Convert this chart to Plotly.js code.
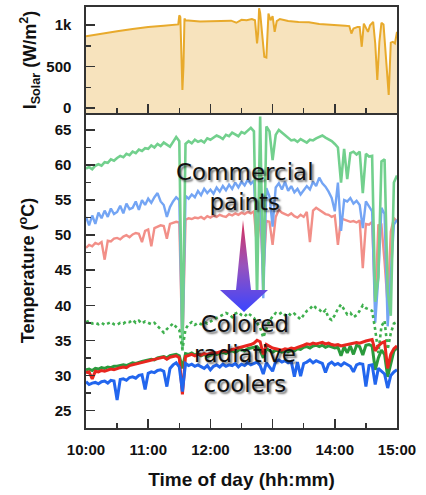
<!DOCTYPE html>
<html>
<head>
<meta charset="utf-8">
<script src="https://cdn.plot.ly/plotly-3.0.1.min.js"></script>
<style>html,body{margin:0;padding:0;background:#fff;}#chart{width:426px;height:495px;}</style>
</head>
<body>
<div id="chart"></div>
<script>
// ---- data ----
// minutes after 10:00 for temperature samples
const tempMinutes = [0,3,6,9,12,15,18,21,24,27,30,33,36,39,42,45,48,51,54,57,60,63,66,69,72,75,78,81,84,87,90,93,96,99,102,105,108,111,114,117,120,123,126,129,132,135,138,141,144,147,150,153,156,159,162,165,168,171,174,177,180,183,186,189,192,195,198,201,204,207,210,213,216,219,222,225,228,231,234,237,240,243,246,249,252,255,258,261,264,267,270,273,276,279,282,285,288,291,294,297,300];

const paintGreen = [59.5,59.7,59.4,59.9,60.1,59.9,60.4,60.3,60.8,60.6,61.0,61.3,61.1,61.6,61.4,61.9,61.7,62.2,62.0,62.4,62.3,62.8,62.5,63.0,62.7,63.2,62.9,62.6,63.3,64.0,63.4,33.5,63.0,63.4,63.1,63.6,63.3,63.5,63.2,63.8,63.6,63.9,64.2,64.0,63.7,64.3,64.1,64.6,64.4,64.1,64.7,64.5,64.9,65.3,64.8,41.0,66.9,42.0,65.5,64.8,60.7,64.3,65.0,64.6,64.2,63.8,63.5,63.6,63.3,63.7,63.4,63.2,63.6,63.5,63.8,64.0,64.2,63.9,63.7,63.4,63.0,62.5,57.5,62.3,58.0,61.7,61.9,61.5,61.9,56.0,61.6,61.2,61.3,40.5,44.0,60.5,60.8,42.0,38.5,57.5,58.5];

const paintBlue = [52.6,51.4,52.8,51.6,53.2,52.4,53.5,52.6,53.8,53.0,53.3,54.2,53.1,54.5,53.7,53.9,54.8,53.6,55.0,54.3,55.2,54.6,55.4,56.0,54.8,54.3,52.6,54.0,54.8,55.4,55.0,34.0,55.6,55.2,55.8,55.4,56.3,55.7,56.6,56.0,56.5,55.9,56.8,56.2,57.0,56.4,57.2,56.6,57.5,56.8,57.6,57.1,57.9,57.3,57.8,48.8,57.5,41.0,56.7,55.5,51.2,56.8,57.4,56.5,57.6,56.3,57.0,56.1,56.6,55.8,56.4,57.0,56.5,57.6,57.0,58.2,57.4,56.9,56.2,55.3,53.4,57.5,50.6,55.0,54.8,55.3,54.5,54.9,54.3,51.0,54.8,54.0,53.4,37.5,44.0,53.9,53.0,37.0,45.0,51.5,52.2];

const paintPink = [48.2,48.6,48.4,48.9,48.7,49.0,46.5,49.2,49.1,49.5,49.6,49.4,49.8,50.0,49.7,50.1,50.3,50.2,49.0,50.6,50.8,48.4,51.0,51.2,51.4,51.3,49.5,51.6,51.8,51.9,51.8,33.8,52.2,52.4,52.3,52.5,52.4,52.6,52.3,52.7,52.5,52.8,52.6,52.9,52.7,52.6,53.0,52.8,53.1,52.9,53.2,53.0,53.3,53.1,53.4,48.2,53.2,44.0,52.0,51.9,48.6,52.6,53.6,53.2,53.0,52.8,53.1,52.7,52.5,52.9,52.6,53.3,49.0,53.5,53.9,53.6,53.2,53.0,52.9,52.6,52.8,48.6,52.4,52.2,52.1,51.9,52.0,51.8,52.1,45.3,51.6,51.5,51.9,40.0,51.4,51.5,46.2,40.0,50.5,52.4,52.0];

const coolerDotted = [37.6,37.8,37.4,37.5,37.3,37.5,37.2,37.4,37.6,37.3,37.2,37.5,37.4,37.7,37.6,37.9,37.5,37.8,37.4,37.7,37.5,37.3,37.5,37.0,36.5,36.1,36.6,37.0,37.4,36.9,36.5,33.7,36.6,37.3,37.6,37.2,37.5,37.3,37.6,37.4,37.7,37.9,38.2,38.4,38.6,38.9,38.7,38.3,38.8,39.0,38.6,38.4,38.9,38.5,38.2,37.5,36.8,35.4,36.5,37.8,38.4,38.9,38.7,39.0,38.6,38.9,38.5,38.8,38.4,38.0,38.6,39.2,39.5,40.0,39.6,39.4,38.9,39.3,38.2,37.9,38.6,39.5,40.1,39.4,38.7,38.9,38.3,38.6,39.2,40.0,39.6,39.4,39.2,36.5,33.2,37.0,37.8,33.7,36.0,37.4,37.6];

const coolerGreen = [30.8,30.9,30.7,31.0,30.9,31.1,31.0,31.2,31.1,31.3,31.3,31.4,31.5,31.4,31.6,31.8,31.7,31.9,32.0,32.1,32.2,32.3,32.2,32.5,32.6,32.7,32.5,32.8,32.9,33.0,32.8,31.0,33.1,33.0,33.2,32.9,33.1,32.8,33.0,32.7,32.9,33.1,33.0,33.2,33.3,33.1,33.4,33.5,33.3,33.6,33.7,33.5,33.8,33.9,34.0,34.1,33.6,32.5,33.8,33.5,33.3,33.6,33.4,33.3,33.5,33.4,33.6,33.5,33.8,33.7,34.0,34.1,33.9,34.2,34.3,34.1,34.3,34.0,34.2,34.1,33.9,34.0,32.8,34.1,33.2,34.2,33.0,34.3,34.1,32.9,34.3,34.4,34.2,30.8,32.5,33.6,33.0,29.8,31.8,33.5,33.9];

const coolerRed = [30.4,30.5,29.5,30.6,30.5,30.7,30.6,30.8,30.9,30.8,31.0,31.1,31.2,31.1,31.4,31.5,31.6,31.7,31.9,32.0,32.1,32.2,32.3,32.4,32.5,32.6,32.3,32.6,32.7,32.8,32.5,27.3,32.7,32.9,33.0,32.8,33.0,32.9,33.1,33.0,33.2,33.3,33.2,33.4,33.5,33.4,33.6,33.7,33.8,33.9,34.0,34.1,34.2,34.4,34.6,35.0,34.8,33.0,34.4,34.1,33.9,33.8,33.7,33.6,33.8,33.7,33.9,33.8,34.0,34.1,34.3,34.5,34.4,34.6,34.5,34.6,34.7,34.5,34.6,34.4,34.3,34.4,34.2,34.3,34.4,34.5,34.6,34.7,34.6,34.8,34.9,35.0,35.1,33.5,34.2,34.6,34.8,31.0,33.0,33.8,34.2];

const coolerBlue = [29.1,28.7,28.9,29.0,28.8,29.1,29.2,28.9,29.3,29.2,26.5,29.4,29.5,29.3,29.7,29.8,29.6,30.0,30.1,28.0,30.3,30.5,30.4,30.7,30.8,30.6,28.4,31.0,31.5,31.8,31.2,27.7,31.7,31.4,31.6,31.3,31.5,31.2,31.0,31.4,30.8,31.3,31.5,31.2,31.6,31.3,31.5,31.4,31.7,31.2,31.6,31.4,31.8,31.5,31.7,31.9,31.4,30.2,31.8,31.2,30.6,32.0,32.2,31.9,32.1,31.8,32.0,29.8,31.9,29.9,31.7,31.9,32.2,31.8,32.1,31.9,31.7,30.4,31.6,31.9,31.5,31.7,31.4,31.8,31.6,31.3,30.5,31.5,31.7,31.6,28.4,31.4,31.5,28.7,31.0,30.6,30.2,28.2,30.0,30.5,30.8];

// solar irradiance (W/m2) at minutes after 10:00
const solarMinutes = [0,15,30,45,60,75,85,89,90,91,93,94,95,96,110,125,140,145,150,155,160,163,165,166,167,168,170,172,174,176,178,180,182,184,187,195,205,215,225,235,245,250,254,256,258,262,264,266,268,270,272,274,277,279,281,283,285,287,289,292,294,296,298,300];
const solarValues = [867,900,928,955,980,995,1005,1010,1120,1100,220,500,1080,1060,1045,1050,1055,1030,1065,1060,1075,1060,780,900,1205,1150,860,620,610,1140,1060,1110,920,1050,1075,1050,1040,1035,1015,1010,1005,995,990,900,960,980,980,740,1020,960,920,1000,1040,780,340,800,1030,1010,700,160,790,800,780,920];

const timeTickLabels = ['10:00','11:00','12:00','13:00','14:00','15:00'];
const tempTickVals = [25,30,35,40,45,50,55,60,65];
const solarTickVals = [0,500,1000];
const solarTickText = ['0','500','1k'];

// ---- helpers ----
function toTime(m){
  const h = 10 + Math.floor(m/60), mm = m % 60;
  return '2024-06-01 ' + String(h).padStart(2,'0') + ':' + String(mm).padStart(2,'0') + ':00';
}
const tX = tempMinutes.map(toTime);
const sX = solarMinutes.map(toTime);
const tickVals = timeTickLabels.map(s => '2024-06-01 ' + s + ':00');

const F = 'Liberation Sans, Arial, sans-serif';
function line(y, color, width, dash){
  return {type:'scatter', mode:'lines', x:tX, y:y, xaxis:'x', yaxis:'y',
    line:{color:color, width:width, dash:dash||'solid'}, hoverinfo:'skip', showlegend:false};
}
const traces = [
  line(paintPink, '#f28f88', 2.4),
  line(paintBlue, '#74a5f4', 2.4),
  line(paintGreen, '#72d08d', 2.6),
  line(coolerDotted, '#3fb04e', 2.6, 'dot'),
  line(coolerGreen, '#2a9a3c', 3),
  line(coolerRed, '#e8261f', 3),
  line(coolerBlue, '#2266ee', 3),
  {type:'scatter', mode:'lines', x:sX, y:solarValues, xaxis:'x2', yaxis:'y2',
   fill:'tozeroy', fillcolor:'#f7e3bd', line:{color:'#e8aa2c', width:2},
   hoverinfo:'skip', showlegend:false}
];

const axLine = {showline:true, linecolor:'#333', linewidth:1.6, mirror:true, showgrid:false, zeroline:false,
  ticks:'inside', ticklen:9, tickwidth:1.5, tickcolor:'#333'};
const tickFont = {family:F, size:15, color:'#111', weight:'bold'};

const arrowSvg = '<svg xmlns="http://www.w3.org/2000/svg" width="52" height="96" viewBox="0 0 52 96">' +
  '<defs><linearGradient id="g" x1="0" y1="0" x2="0" y2="1">' +
  '<stop offset="0" stop-color="#d8325a"/><stop offset="0.5" stop-color="#9752bd"/><stop offset="1" stop-color="#3b45ff"/>' +
  '</linearGradient></defs>' +
  '<path d="M25 2 L33 72 L50 72 L26 94 L2 72 L18 72 Z" fill="url(#g)"/></svg>';

const annFont = {family:'DejaVu Sans, sans-serif', size:23, color:'#111', shadow:'2px 2px 2px rgba(0,0,0,0.55)'};

const layout = {
  width:426, height:495,
  margin:{l:86, r:29, t:7, b:67},
  paper_bgcolor:'#fff', plot_bgcolor:'#fff',
  showlegend:false,
  font:{family:F, color:'#111'},
  xaxis: Object.assign({}, axLine, {
    type:'date', anchor:'y', domain:[0,1],
    range:[toTime(0), toTime(300)],
    tickvals:tickVals, ticktext:timeTickLabels,
    tickfont:tickFont, ticklabelstandoff:7,
    minor:{dtick:1800000, ticks:'inside', ticklen:5, tickwidth:1.5, tickcolor:'#333'},
    title:{text:'Time of day (hh:mm)', font:{family:F, size:19, weight:'bold', color:'#111'}, standoff:16}
  }),
  xaxis2: Object.assign({}, axLine, {
    type:'date', anchor:'y2', matches:'x', domain:[0,1],
    range:[toTime(0), toTime(300)],
    tickvals:tickVals, showticklabels:false,
    minor:{dtick:1800000, ticks:'inside', ticklen:5, tickwidth:1.5, tickcolor:'#333'}
  }),
  yaxis: Object.assign({}, axLine, {
    domain:[0, 0.748], range:[22.5, 67.4],
    tickvals:tempTickVals, tickfont:tickFont, ticklabelstandoff:10,
    minor:{dtick:2.5, ticks:'inside', ticklen:5, tickwidth:1.5, tickcolor:'#333'},
    title:{text:'Temperature (<sup>o</sup>C)', font:{family:F, size:18, weight:'bold', color:'#111'}, standoff:15}
  }),
  yaxis2: Object.assign({}, axLine, {
    domain:[0.748, 1], range:[-60, 1220],
    tickvals:solarTickVals, ticktext:solarTickText, tickfont:tickFont, ticklabelstandoff:10,
    minor:{tickvals:[250,750], ticks:'inside', ticklen:5, tickwidth:1.5, tickcolor:'#333'},
    title:{text:'I<sub>Solar</sub> (W/m<sup>2</sup>)', font:{family:F, size:18, weight:'bold', color:'#111'}, standoff:5}
  }),
  shapes:[
    {type:'rect', xref:'x2', yref:'y2', x0:toTime(0), x1:toTime(300), y0:-60, y1:0,
     fillcolor:'#f7e3bd', line:{width:0}, layer:'below'}
  ],
  images:[
    {source:'data:image/svg+xml;charset=utf-8,' + encodeURIComponent(arrowSvg),
     xref:'paper', yref:'paper', x:(218-86)/311, y:(428-218)/421, sizex:52/311, sizey:96/421,
     sizing:'stretch', xanchor:'left', yanchor:'top', layer:'above'}
  ],
  annotations:[
    {xref:'paper', yref:'y', x:(245-86)/311, y:56.9, text:'Commercial<br>paints', showarrow:false, font:annFont},
    {xref:'paper', yref:'y', x:(245-86)/311, y:33.0, text:'Colored<br>radiative<br>coolers', showarrow:false, font:annFont}
  ],
  hovermode:false
};

Plotly.newPlot('chart', traces, layout, {staticPlot:true, displayModeBar:false});
</script>
</body>
</html>
